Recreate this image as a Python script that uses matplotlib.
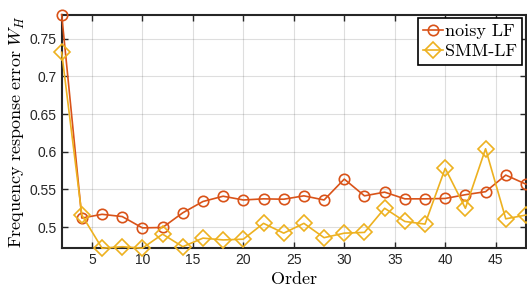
import matplotlib.pyplot as plt
import numpy as np

plt.rcParams['font.family'] = ['Liberation Sans', 'DejaVu Sans']
plt.rcParams['mathtext.fontset'] = 'cm'

# data
order = np.arange(2, 50, 2)
noisy_lf = [0.782, 0.512, 0.517, 0.514, 0.499, 0.4995, 0.519, 0.534, 0.541, 0.536,
            0.5375, 0.537, 0.5415, 0.536, 0.5637, 0.5415, 0.5464, 0.5375, 0.5375, 0.538,
            0.543, 0.547, 0.569, 0.557]
smm_lf = [0.732, 0.516, 0.472, 0.474, 0.472, 0.4907, 0.474, 0.4854, 0.483, 0.484,
          0.505, 0.492, 0.505, 0.486, 0.492, 0.493, 0.525, 0.5075, 0.504, 0.578,
          0.525, 0.604, 0.511, 0.516]
xticks = [5, 10, 15, 20, 25, 30, 35, 40, 45]
yticks = [0.5, 0.55, 0.6, 0.65, 0.7, 0.75]

c_red = (0.85, 0.325, 0.098)
c_yel = (0.929, 0.694, 0.125)
dark = (0.15, 0.15, 0.15)

fig = plt.figure(figsize=(5.27, 2.91), dpi=100)
ax = fig.add_axes([0.117, 0.147, 0.881, 0.803])

ax.plot(order, noisy_lf, '-o', color=c_red, lw=1.2, ms=7.5, mfc='none', mew=1.2,
        label='noisy LF', clip_on=False, zorder=3)
ax.plot(order, smm_lf, '-D', color=c_yel, lw=1.2, ms=8.5, mfc='none', mew=1.2,
        label='SMM-LF', clip_on=False, zorder=3)

ax.set_xlim(2, 48)
ax.set_ylim(min(smm_lf), max(noisy_lf))
ax.set_xticks(xticks)
ax.set_yticks(yticks)
ax.set_yticklabels(['0.5', '0.55', '0.6', '0.65', '0.7', '0.75'])
ax.grid(True, color=dark, alpha=0.15, lw=0.8)
ax.tick_params(direction='in', length=4, width=1, colors=dark, labelsize=10,
               top=True, right=True, labelcolor=dark)
for s in ax.spines.values():
    s.set_color(dark)
    s.set_linewidth(1.5)

ax.set_xlabel(r'$\mathrm{Order}$', fontsize=13, labelpad=3)
ax.set_ylabel(r'$\mathrm{Frequency\ response\ error}\ W_H$', fontsize=13, labelpad=2)

leg = ax.legend(loc='upper right', prop={'family': 'cmr10', 'size': 13},
                fancybox=False, framealpha=1,
                edgecolor='black', borderpad=0.3, handlelength=1.1, handletextpad=0.1,
                labelspacing=0.25, borderaxespad=0.2)
leg.get_frame().set_linewidth(1.2)

fig.savefig('out.png', dpi=100)
